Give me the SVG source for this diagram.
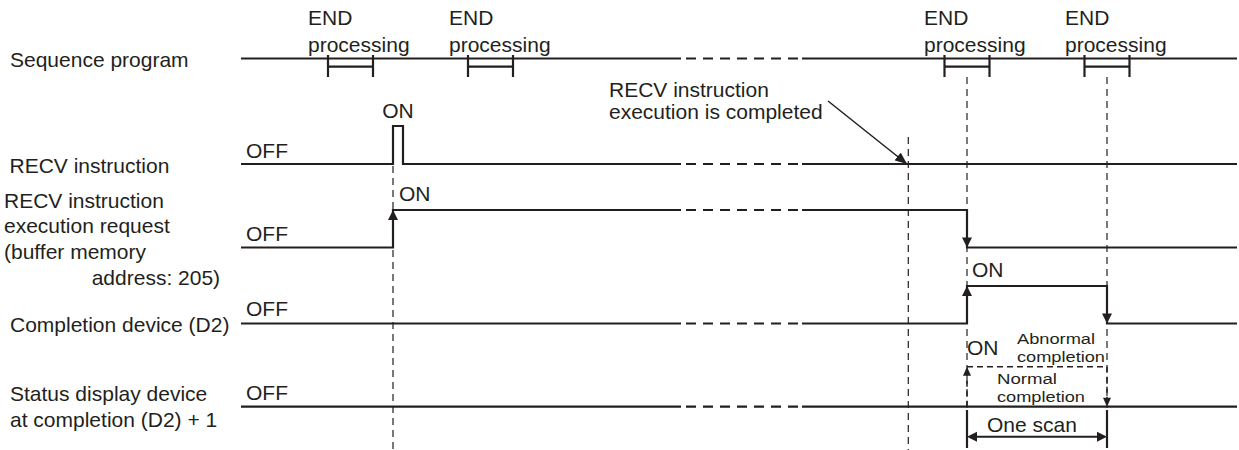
<svg xmlns="http://www.w3.org/2000/svg" xmlns:xlink="http://www.w3.org/1999/xlink" width="1239" height="450" viewBox="0 0 1239 450">
<style>
text{font-family:"Liberation Sans",Arial,sans-serif;font-size:21px;fill:#231f20}
.sm{font-size:15.5px}
.sig{fill:none;stroke:#231f20;stroke-width:2.2;stroke-linejoin:miter}
.brk{fill:none;stroke:#231f20;stroke-width:2.2;stroke-dasharray:10 7}
.guide{fill:none;stroke:#231f20;stroke-width:1.2;stroke-dasharray:7 5}
.box{fill:none;stroke:#231f20;stroke-width:1.5;stroke-dasharray:6 4}
.ah{fill:#231f20}
</style>
<defs>
<polygon id="ah" points="0,0 -10,-5 -10,5"/>
<polygon id="ahs" points="0,0 -9,-4 -9,4"/>
<marker id="arr" markerUnits="userSpaceOnUse" markerWidth="12" markerHeight="10" refX="12" refY="5" orient="auto">
<path d="M0,0 L12,5 L0,10 z" fill="#231f20"/>
</marker>
</defs>
<rect width="1239" height="450" fill="#ffffff"/>

<g id="connectors">
<line class="guide" x1="393" y1="166" x2="393" y2="450"/>
<line class="guide" x1="908.3" y1="137" x2="908.3" y2="450"/>
<line class="guide" x1="967" y1="77" x2="967" y2="410"/>
<line class="guide" x1="1107" y1="77" x2="1107" y2="410"/>
<line x1="828" y1="101" x2="907" y2="164" stroke="#231f20" stroke-width="1.5" marker-end="url(#arr)"/>
</g>

<g id="row-sequence">
<text x="10" y="67.3">Sequence program</text>
<line class="sig" x1="241" y1="58.5" x2="681" y2="58.5"/>
<line class="brk" x1="686" y1="58.5" x2="798" y2="58.5"/>
<line class="sig" x1="802" y1="58.5" x2="1237" y2="58.5"/>
<g id="end1">
<text x="308" y="25">END</text>
<text x="308" y="51.7">processing</text>
<path class="sig" d="M328,55 V77 M373,55 V77 M328,66.7 H373"/>
</g>
<g id="end2">
<text x="449" y="25">END</text>
<text x="449" y="51.7">processing</text>
<path class="sig" d="M468,55 V77 M513,55 V77 M468,66.7 H513"/>
</g>
<g id="end3">
<text x="924" y="25">END</text>
<text x="924" y="51.7">processing</text>
<path class="sig" d="M944.5,55 V77 M989.5,55 V77 M944.5,66.7 H989.5"/>
</g>
<g id="end4">
<text x="1065" y="25">END</text>
<text x="1065" y="51.7">processing</text>
<path class="sig" d="M1084.5,55 V77 M1129.5,55 V77 M1084.5,66.7 H1129.5"/>
</g>
</g>

<g id="note-completed">
<text x="609" y="97">RECV instruction</text>
<text x="609" y="118.5">execution is completed</text>
</g>

<g id="row-recv">
<text x="9.5" y="172.7">RECV instruction</text>
<text x="246" y="158.3">OFF</text>
<text x="398" y="118.3" text-anchor="middle">ON</text>
<polyline class="sig" points="241,164 393,164 393,126 403,126 403,164 681,164"/>
<line class="brk" x1="686" y1="164" x2="798" y2="164"/>
<line class="sig" x1="802" y1="164" x2="1237" y2="164"/>
</g>

<g id="row-request">
<text x="4" y="208.3">RECV instruction</text>
<text x="4" y="233">execution request</text>
<text x="4" y="259">(buffer memory</text>
<text x="91.7" y="285">address: 205)</text>
<text x="246" y="241">OFF</text>
<text x="399" y="201">ON</text>
<polyline class="sig" points="241,247.5 393,247.5 393,210 681,210"/>
<line class="brk" x1="686" y1="210" x2="798" y2="210"/>
<polyline class="sig" points="802,210 967,210 967,247.5 1237,247.5"/>
<use xlink:href="#ah" class="ah" transform="translate(393,210) rotate(-90)"/>
<use xlink:href="#ah" class="ah" transform="translate(967,247.5) rotate(90)"/>
</g>

<g id="row-completion">
<text x="10" y="331.7">Completion device (D2)</text>
<text x="246" y="316">OFF</text>
<text x="972" y="276.7">ON</text>
<line class="sig" x1="241" y1="323.5" x2="681" y2="323.5"/>
<line class="brk" x1="686" y1="323.5" x2="798" y2="323.5"/>
<polyline class="sig" points="802,323.5 967,323.5 967,286 1107,286 1107,323.5 1237,323.5"/>
<use xlink:href="#ah" class="ah" transform="translate(967,286) rotate(-90)"/>
<use xlink:href="#ah" class="ah" transform="translate(1107,323.5) rotate(90)"/>
</g>

<g id="row-status">
<text x="10" y="401">Status display device</text>
<text x="10" y="426.7">at completion (D2) + 1</text>
<text x="246" y="400">OFF</text>
<text x="967" y="355">ON</text>
<text class="sm" x="1017" y="343.5" textLength="78" lengthAdjust="spacingAndGlyphs">Abnormal</text>
<text class="sm" x="1017" y="361.5" textLength="88" lengthAdjust="spacingAndGlyphs">completion</text>
<text class="sm" x="997" y="384" textLength="60" lengthAdjust="spacingAndGlyphs">Normal</text>
<text class="sm" x="997" y="402" textLength="88" lengthAdjust="spacingAndGlyphs">completion</text>
<line class="sig" x1="241" y1="406.7" x2="681" y2="406.7"/>
<line class="brk" x1="686" y1="406.7" x2="798" y2="406.7"/>
<line class="sig" x1="802" y1="406.7" x2="1237" y2="406.7"/>
<polyline class="box" points="967,406.7 967,366.7 1107,366.7 1107,406.7"/>
<use xlink:href="#ahs" class="ah" transform="translate(967,366.7) rotate(-90)"/>
<use xlink:href="#ahs" class="ah" transform="translate(1107,406.7) rotate(90)"/>
</g>

<g id="dim-one-scan">
<text x="987" y="431.7">One scan</text>
<path class="sig" d="M967,410 V448 M1107,410 V448"/>
<line x1="975" y1="436.7" x2="1099" y2="436.7" stroke="#231f20" stroke-width="2"/>
<use xlink:href="#ah" class="ah" transform="translate(967,436.7) rotate(180)"/>
<use xlink:href="#ah" class="ah" transform="translate(1107,436.7)"/>
</g>
</svg>
